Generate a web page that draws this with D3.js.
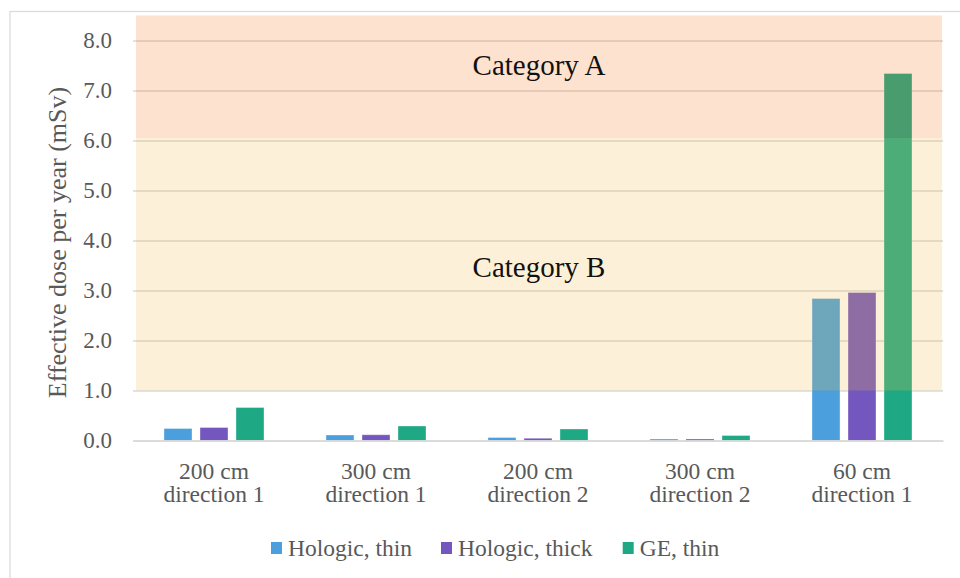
<!DOCTYPE html>
<html>
<head>
<meta charset="utf-8">
<script src="https://cdn.jsdelivr.net/npm/d3@7"></script>
<style>
  html, body { margin: 0; padding: 0; background: #fff; }
  svg { display: block; font-family: "Liberation Serif", "Times New Roman", serif; }
</style>
</head>
<body>
<svg id="chart" width="960" height="578"></svg>
<script>
// Annual effective dose per location, by mammography unit
const categories = [
  ["200 cm", "direction 1"],
  ["300 cm", "direction 1"],
  ["200 cm", "direction 2"],
  ["300 cm", "direction 2"],
  ["60 cm", "direction 1"]
];
const seriesNames = ["Hologic, thin", "Hologic, thick", "GE, thin"];
const hologicThin  = [0.24, 0.11, 0.06, 0.03, 2.84];
const hologicThick = [0.26, 0.115, 0.045, 0.03, 2.96];
const geThin       = [0.66, 0.29, 0.23, 0.10, 7.34];
const seriesColors = ["#4a9fdc", "#7357be", "#1fa884"];
const yTicks = [0, 1, 2, 3, 4, 5, 6, 7, 8];
// Dose classification bands (mSv)
const bandNames = ["Category A", "Category B"];
const bandFrom  = [6.05, 1.0];
const bandTo    = [8.5, 6.05];

const seriesValues = [hologicThin, hologicThick, geThin];
const serif = "'Liberation Serif', 'Times New Roman', serif";
const svg = d3.select("#chart");

// outer frame
svg.append("rect").attr("x", 10).attr("y", 11.5).attr("width", 960).attr("height", 600)
  .attr("fill", "none").attr("stroke", "#d9d9d9").attr("stroke-width", 1.2);

const left = 133, right = 943;
const x0 = d3.scaleBand().domain(d3.range(categories.length)).range([left, right]);
const x1 = d3.scaleBand().domain(d3.range(seriesNames.length)).range([0, 100]).paddingInner(0.2222);
const y = d3.scaleLinear().domain([0, 8.5]).range([440.5, 15.5]);

// gridlines and tick labels
const yAxis = d3.axisLeft(y).tickValues(yTicks).tickFormat(d3.format(".1f"))
  .tickSizeInner(-(right - left)).tickSizeOuter(0).tickPadding(21);
const gy = svg.append("g").attr("transform", `translate(${left},0)`).call(yAxis)
  .attr("font-family", serif).attr("font-size", 23);
gy.select(".domain").remove();
gy.selectAll(".tick line").attr("stroke", "#d9d9d9").attr("stroke-width", 1.5);
gy.selectAll(".tick text").attr("fill", "#595959");

// bars
const groups = svg.append("g").selectAll("g").data(categories).join("g")
  .attr("transform", (d, i) => `translate(${x0(i) + (x0.bandwidth() - 100) / 2},0)`);
groups.selectAll("rect")
  .data((d, i) => seriesValues.map((vals, s) => ({ s, v: vals[i] })))
  .join("rect")
  .attr("x", d => x1(d.s))
  .attr("width", x1.bandwidth())
  .attr("y", d => y(d.v))
  .attr("height", d => y(0) - y(d.v))
  .attr("fill", d => seriesColors[d.s])
  .attr("stroke", "rgba(255,255,255,0.35)")
  .attr("stroke-width", 1);

// translucent classification bands laid over the plot
const bandFill = ["rgba(245,110,20,0.2)", "rgba(241,191,76,0.22)"];
svg.append("g").selectAll("rect").data(bandNames).join("rect")
  .attr("x", 136)
  .attr("width", 942 - 136)
  .attr("y", (d, i) => y(bandTo[i]))
  .attr("height", (d, i) => y(bandFrom[i]) - y(bandTo[i]))
  .attr("fill", (d, i) => bandFill[i]);

// band labels
svg.append("g").selectAll("text").data(bandNames).join("text")
  .attr("x", (left + right) / 2 + 1)
  .attr("y", (d, i) => i === 0 ? 74.5 : 276.5)
  .attr("text-anchor", "middle")
  .attr("fill", "#111")
  .style("font-size", "29px")
  .text(d => d);

// category labels
const gx = svg.append("g").attr("transform", `translate(0,${y(0)})`)
  .call(d3.axisBottom(x0).tickSize(0).tickFormat(""))
  .attr("font-family", serif).attr("font-size", 23.5);
gx.select(".domain").attr("stroke", "#d9d9d9").attr("stroke-width", 1.5);
gx.selectAll(".tick text").remove();
gx.selectAll(".tick").append("text")
  .attr("text-anchor", "middle")
  .attr("fill", "#595959")
  .selectAll("tspan")
  .data(i => categories[i])
  .join("tspan")
  .attr("x", 0)
  .attr("y", (d, j) => j === 0 ? 38.3 : 61.4)
  .text(d => d);

// y axis title
svg.append("text")
  .attr("transform", "translate(66,242.5) rotate(-90)")
  .attr("text-anchor", "middle")
  .attr("fill", "#595959")
  .style("font-size", "26px")
  .text("Effective dose per year (mSv)");

// legend
const legendX = [271, 441, 622.7];
const legend = svg.append("g").selectAll("g").data(seriesNames).join("g")
  .attr("transform", (d, i) => `translate(${legendX[i]},0)`);
legend.append("rect").attr("x", 0).attr("y", 542).attr("width", 11).attr("height", 12)
  .attr("fill", (d, i) => seriesColors[i]);
legend.append("text").attr("x", 17).attr("y", 556)
  .attr("fill", "#595959").style("font-size", "23.5px").text(d => d);
</script>
</body>
</html>
